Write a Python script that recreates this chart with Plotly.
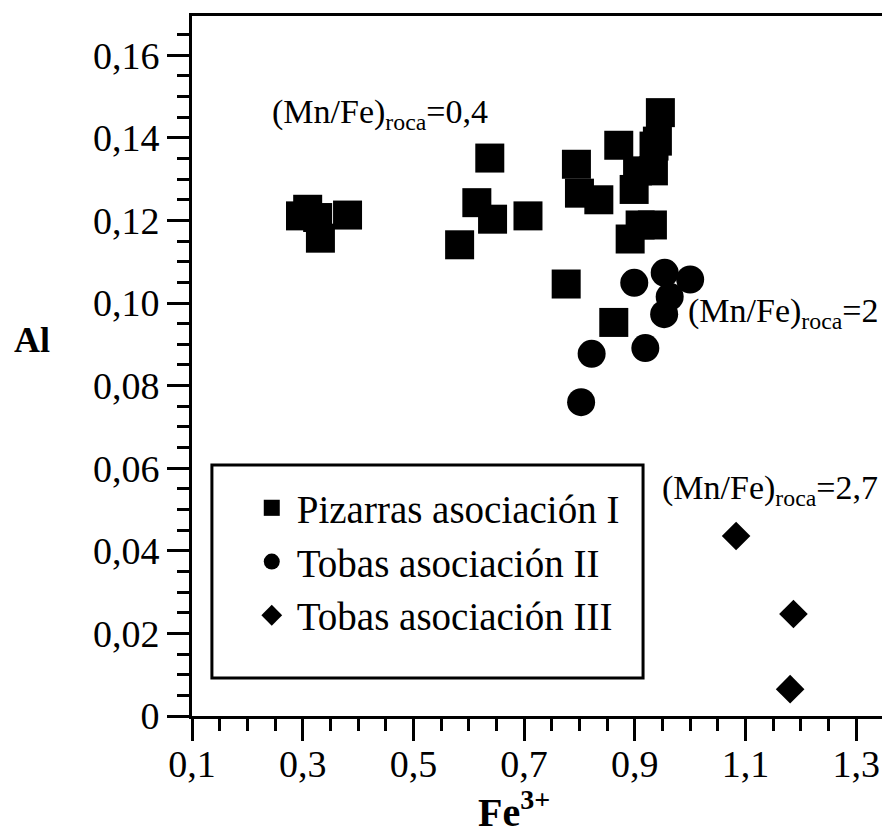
import plotly.graph_objects as go

# Fe3+ vs Al
pizarras_fe = [0.296, 0.309, 0.327, 0.332, 0.381,
               0.5835, 0.6146, 0.638, 0.643, 0.707,
               0.776, 0.7945, 0.800, 0.835, 0.862,
               0.871, 0.8916, 0.8988, 0.905, 0.9096,
               0.9318, 0.9336, 0.9347, 0.9408, 0.9462]
pizarras_al = [0.1211, 0.1227, 0.1207, 0.1157, 0.1213,
               0.1141, 0.1243, 0.1351, 0.1203, 0.1211,
               0.1046, 0.1336, 0.1266, 0.1250, 0.0953,
               0.1382, 0.1155, 0.1275, 0.1320, 0.1189,
               0.1189, 0.1320, 0.1380, 0.1392, 0.1461]

tobas2_fe = [0.899, 0.954, 1.000, 0.963, 0.953, 0.822, 0.919, 0.803]
tobas2_al = [0.1049, 0.1073, 0.1057, 0.1015, 0.0973, 0.0877, 0.0891, 0.0760]

tobas3_fe = [1.083, 1.1866, 1.1806]
tobas3_al = [0.0436, 0.0247, 0.0065]

x_ticks = [0.1, 0.3, 0.5, 0.7, 0.9, 1.1, 1.3]
x_labels = ["0,1", "0,3", "0,5", "0,7", "0,9", "1,1", "1,3"]
y_ticks = [0, 0.02, 0.04, 0.06, 0.08, 0.10, 0.12, 0.14, 0.16]
y_labels = ["0", "0,02", "0,04", "0,06", "0,08", "0,10", "0,12", "0,14", "0,16"]

FONT = "Liberation Serif"

fig = go.Figure()
fig.add_trace(go.Scatter(
    x=pizarras_fe, y=pizarras_al, mode="markers", name="Pizarras asociación I",
    marker=dict(symbol="square", size=29, color="black"),
))
fig.add_trace(go.Scatter(
    x=tobas2_fe, y=tobas2_al, mode="markers", name="Tobas asociación II",
    marker=dict(symbol="circle", size=28, color="black"),
))
fig.add_trace(go.Scatter(
    x=tobas3_fe, y=tobas3_al, mode="markers", name="Tobas asociación III",
    marker=dict(symbol="diamond", size=22, color="black"),
))

axis_common = dict(
    showline=True, linecolor="black", linewidth=3, mirror=True,
    ticks="outside", ticklen=22, tickwidth=3, tickcolor="black",
    showgrid=False, zeroline=False,
    tickfont=dict(family=FONT, size=38, color="black"),
)

fig.update_xaxes(
    range=[0.1, 1.352], tickvals=x_ticks, ticktext=x_labels, ticklabelstandoff=-10,
    minor=dict(dtick=0.05, tick0=0.1, ticks="outside", ticklen=12, tickwidth=3, tickcolor="black"),
    **axis_common,
)
fig.update_yaxes(
    range=[0, 0.1695], tickvals=y_ticks, ticktext=y_labels,
    minor=dict(dtick=0.005, tick0=0, ticks="outside", ticklen=12, tickwidth=3, tickcolor="black"),
    **axis_common,
)

ann_font = dict(family=FONT, size=34, color="black")
annotations = [
    dict(x=0.2408, y=0.1457, text="(Mn/Fe)<sub>roca</sub>=0,4"),
    dict(x=0.9926, y=0.0975, text="(Mn/Fe)<sub>roca</sub>=2"),
    dict(x=0.9459, y=0.0548, text="(Mn/Fe)<sub>roca</sub>=2,7"),
]
for a in annotations:
    fig.add_annotation(xref="x", yref="y", xanchor="left", yanchor="middle",
                       showarrow=False, font=ann_font, **a)

# axis titles placed like the original
fig.add_annotation(xref="paper", yref="paper", x=(31 - 192) / 696, y=(716 - 340) / 700,
                   xanchor="center", yanchor="middle", text="<b>Al</b>",
                   showarrow=False, font=dict(family=FONT, size=36, color="black"))
fig.add_annotation(xref="paper", yref="paper", x=(515 - 192) / 696, y=(716 - 837) / 700,
                   xanchor="center", yanchor="bottom", text="<b>Fe<sup>3+</sup></b>",
                   showarrow=False, font=dict(family=FONT, size=40, color="black"))

# legend frame
fig.add_shape(type="rect", xref="paper", yref="paper",
              x0=(212 - 192) / 696, x1=(645 - 192) / 696,
              y0=(716 - 678) / 700, y1=(716 - 465) / 700,
              line=dict(color="black", width=3), fillcolor="white", layer="below")

# page body adds an 8px offset, so the figure is 8px smaller than the window
fig.update_layout(
    width=882, height=830,
    margin=dict(l=184, r=2, t=8, b=122),
    paper_bgcolor="white", plot_bgcolor="rgba(0,0,0,0)",
    font=dict(family=FONT, color="black"),
    showlegend=True,
    legend=dict(
        x=(247 - 192) / 696, y=(716 - 476) / 700, xanchor="left", yanchor="top",
        bgcolor="rgba(0,0,0,0)", borderwidth=0,
        font=dict(family=FONT, size=39, color="black"),
        itemwidth=40,
    ),
)

fig.write_html("out.html")
